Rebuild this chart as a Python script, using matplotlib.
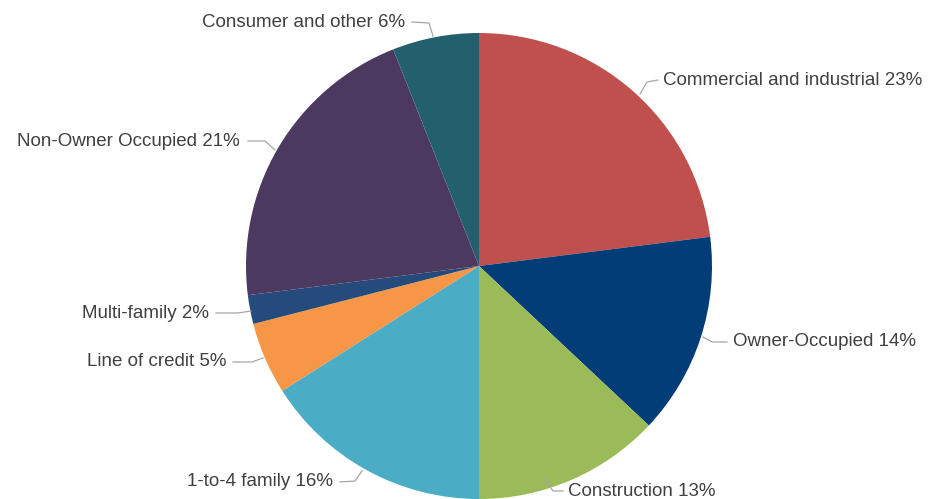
import matplotlib.pyplot as plt

plt.rcParams['font.family'] = ['Liberation Sans', 'DejaVu Sans']

labels = ['Commercial and industrial', 'Owner-Occupied', 'Construction', '1-to-4 family',
          'Line of credit', 'Multi-family', 'Non-Owner Occupied', 'Consumer and other']
shares = [23, 14, 13, 16, 5, 2, 21, 6]
colors = ['#C0504D', '#023D78', '#9BBB59', '#4BACC6', '#F79646', '#254A7C', '#4B3960', '#22606E']

H = 499
# label text anchor (x, y in image pixels), alignment, leader polyline (image pixels)
label_pos = [
    (663, 80, 'left', [(640, 94), (647, 82), (658, 80)]),
    (733, 342, 'left', [(703, 337), (712, 342), (727, 342)]),
    (568, 491, 'left', [(544, 478), (553, 491), (563, 491)]),
    (333, 482, 'right', [(362, 471), (355, 481), (340, 482)]),
    (226, 362, 'right', [(263, 358), (252, 362), (233, 362)]),
    (209, 313, 'right', [(251, 311), (238, 313), (216, 313)]),
    (240, 141, 'right', [(275, 150), (265, 141), (248, 141)]),
    (405, 22, 'right', [(433, 36), (429, 23), (412, 22)]),
]

fig = plt.figure(figsize=(9.30, 4.99), dpi=100)
ax = fig.add_axes([0, 0, 1, 1])

ax.pie(shares, colors=colors, startangle=90, counterclock=False,
       center=(479, H - 266), radius=233, frame=True,
       wedgeprops=dict(linewidth=0))
ax.set_xlim(0, 930)
ax.set_ylim(0, H)
ax.set_aspect('equal')
ax.axis('off')

for lab, s, (tx, ty, ha, pts) in zip(labels, shares, label_pos):
    ax.plot([p[0] for p in pts], [H - p[1] for p in pts], color='#A6A6A6', lw=0.9)
    ax.text(tx, H - ty, f'{lab} {s}%', ha=ha, va='center', fontsize=13.5, color='#404040')

fig.savefig('out.png', dpi=100)
